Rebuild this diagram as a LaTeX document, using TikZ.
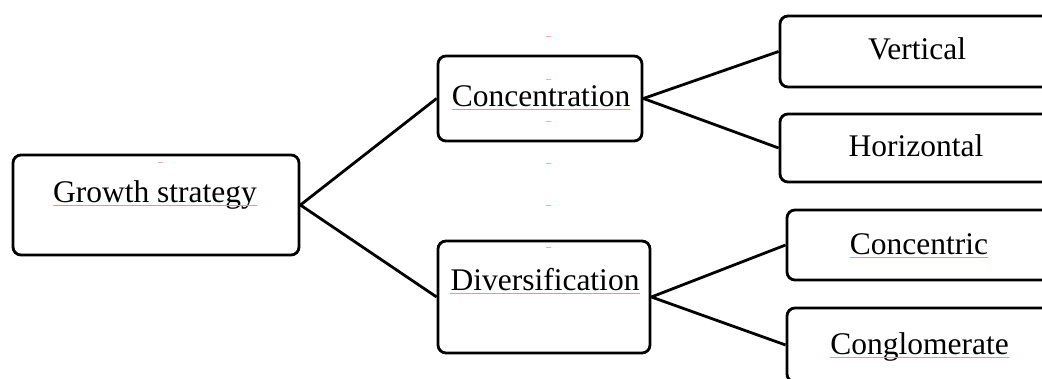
\documentclass[tikz,border=0pt]{standalone}
\usepackage{fontspec}
\setmainfont{Liberation Serif}
\begin{document}
\begin{tikzpicture}[x=1pt,y=-1pt,
  box/.style={draw=black, line width=2.8pt, rounded corners=8pt, inner sep=0pt},
  lbl/.style={anchor=base, inner sep=0pt, font=\fontsize{31.5}{36}\selectfont},
  link/.style={draw=black, line width=2.8pt},
  spell/.style={draw=red!45, line width=0.8pt},
  tick/.style={draw=red!35, line width=1pt}]
\useasboundingbox (0,0) rectangle (1042,379);
\clip (0,0) rectangle (1042,379);

% boxes
\node[box, minimum width=286, minimum height=100] (growth) at (156,205) {};
\node[box, minimum width=204, minimum height=85]  (conc)   at (540,98.5) {};
\node[box, minimum width=212, minimum height=112] (div)    at (544,297) {};
\node[box, minimum width=280, minimum height=71]  (vert)   at (920,51.5) {};
\node[box, minimum width=280, minimum height=68]  (horiz)  at (920,148) {};
\node[box, minimum width=273, minimum height=70]  (cctr)   at (923.5,245) {};
\node[box, minimum width=273, minimum height=74]  (cglo)   at (923.5,345) {};

% labels
\node[lbl] (tgrowth) at (155,203) {Growth strategy};
\node[lbl] (tconc)   at (541,107) {Concentration};
\node[lbl] (tdiv)    at (545,291) {Diversification};
\node[lbl] (tvert)   at (917,60)  {Vertical};
\node[lbl] (thoriz)  at (916,157) {Horizontal};
\node[lbl] (tcctr)   at (919,255) {Concentric};
\node[lbl] (tcglo)   at (919.5,355) {Conglomerate};

% connectors
\draw[link] (growth.east) -- (conc.west);
\draw[link] (growth.east) -- (div.west);
\draw[link] (conc.east) -- (vert.west);
\draw[link] (conc.east) -- (horiz.west);
\draw[link] (div.east) -- (cctr.west);
\draw[link] (div.east) -- (cglo.west);

% proofing underlines
\foreach \t in {tgrowth,tconc,tdiv,tcctr,tcglo}
  \draw[spell] ([yshift=-2pt]\t.base west) -- ([yshift=-2pt]\t.base east);

% faint paragraph marks
\foreach \yy in {37,80,122,164,206,248}
  \draw[tick] (545.5,\yy) -- (550.5,\yy);
\draw[tick] (157.5,163) -- (162.5,163);
\end{tikzpicture}
\end{document}
